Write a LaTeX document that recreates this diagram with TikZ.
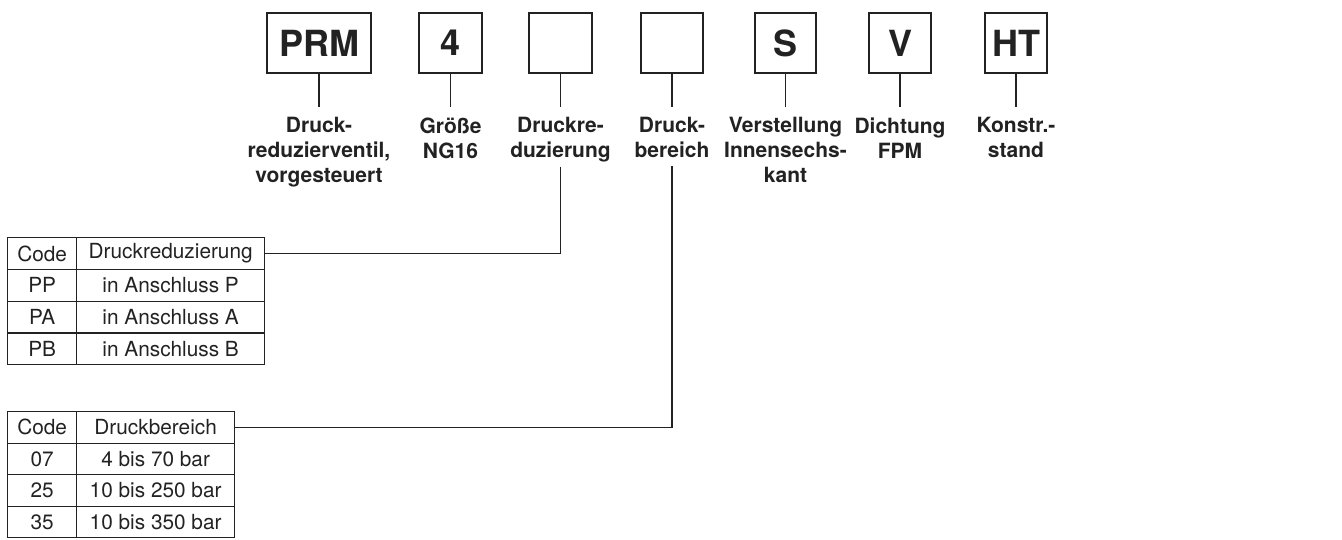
\documentclass[tikz,border=0pt]{standalone}
\usepackage{fontspec}
\setmainfont{TeX Gyre Heros}
\definecolor{ink}{HTML}{222222}
\begin{document}
\begin{tikzpicture}[x=1pt,y=-1pt,color=ink,line width=1.3pt,
  codebox/.style={draw,inner sep=0pt,minimum height=60pt,font=\fontsize{36}{36}\selectfont\bfseries},
  lab/.style={anchor=north,inner sep=0pt,align=center,font=\fontsize{21}{25}\selectfont\bfseries},
  cell/.style={draw,inner sep=0pt,anchor=north west,font=\fontsize{20.8}{20.8}\selectfont},
  rowA/.style={cell,minimum height=31.75pt},
  rowB/.style={cell,minimum height=31.5pt},
  stem/.style={shorten >=10pt}]
\useasboundingbox (0,0) rectangle (1342,539);
% code boxes
\node[codebox,minimum width=104pt] (b1) at (319,43) {PRM};
\node[codebox,minimum width=63pt] (b2) at (450.5,43) {4};
\node[codebox,minimum width=63pt] (b3) at (560.5,43) {};
\node[codebox,minimum width=62pt] (b4) at (672,43) {};
\node[codebox,minimum width=61pt] (b5) at (785.5,43) {S};
\node[codebox,minimum width=62pt] (b6) at (900,43) {V};
\node[codebox,minimum width=62pt] (b7) at (1016,43) {HT};
% labels
\node[lab] (l1) at (319,117) {Druck-\\reduzierventil,\\vorgesteuert};
\node[lab] (l2) at (450.5,117) {Größe\\NG16};
\node[lab] (l3) at (560.5,117) {Druckre-\\duzierung};
\node[lab] (l4) at (672,117) {Druck-\\bereich};
\node[lab] (l5) at (785.5,117) {Verstellung\\Innensechs-\\kant};
\node[lab] (l6) at (900,117) {Dichtung\\FPM};
\node[lab] (l7) at (1016,117) {Konstr.-\\stand};
% stems
\foreach \i in {1,...,7}{\draw[stem] (b\i.south) -- (l\i.north);}
% table 1
\node[rowA,minimum width=69pt] (t1a) at (7,237) {Code};
\node[rowA,minimum width=188pt] (t1b) at (76,237) {Druckreduzierung};
\node[rowA,minimum width=69pt] (t1c) at (7,268.75) {PP};
\node[rowA,minimum width=188pt] (t1d) at (76,268.75) {in Anschluss P};
\node[rowA,minimum width=69pt] (t1e) at (7,300.5) {PA};
\node[rowA,minimum width=188pt] (t1f) at (76,300.5) {in Anschluss A};
\node[rowA,minimum width=69pt] (t1g) at (7,332.25) {PB};
\node[rowA,minimum width=188pt] (t1h) at (76,332.25) {in Anschluss B};
% table 2
\node[rowB,minimum width=69pt] (t2a) at (7,411) {Code};
\node[rowB,minimum width=158pt] (t2b) at (76,411) {Druckbereich};
\node[rowB,minimum width=69pt] (t2c) at (7,442.5) {07};
\node[rowB,minimum width=158pt] (t2d) at (76,442.5) {4 bis 70 bar};
\node[rowB,minimum width=69pt] (t2e) at (7,474) {25};
\node[rowB,minimum width=158pt] (t2f) at (76,474) {10 bis 250 bar};
\node[rowB,minimum width=69pt] (t2g) at (7,505.5) {35};
\node[rowB,minimum width=158pt] (t2h) at (76,505.5) {10 bis 350 bar};
% connectors to tables
\draw[shorten <=3.5pt] (l3.south) |- (t1b.east);
\draw[shorten <=7pt] (l4.south) |- (t2b.east);
\end{tikzpicture}
\end{document}
